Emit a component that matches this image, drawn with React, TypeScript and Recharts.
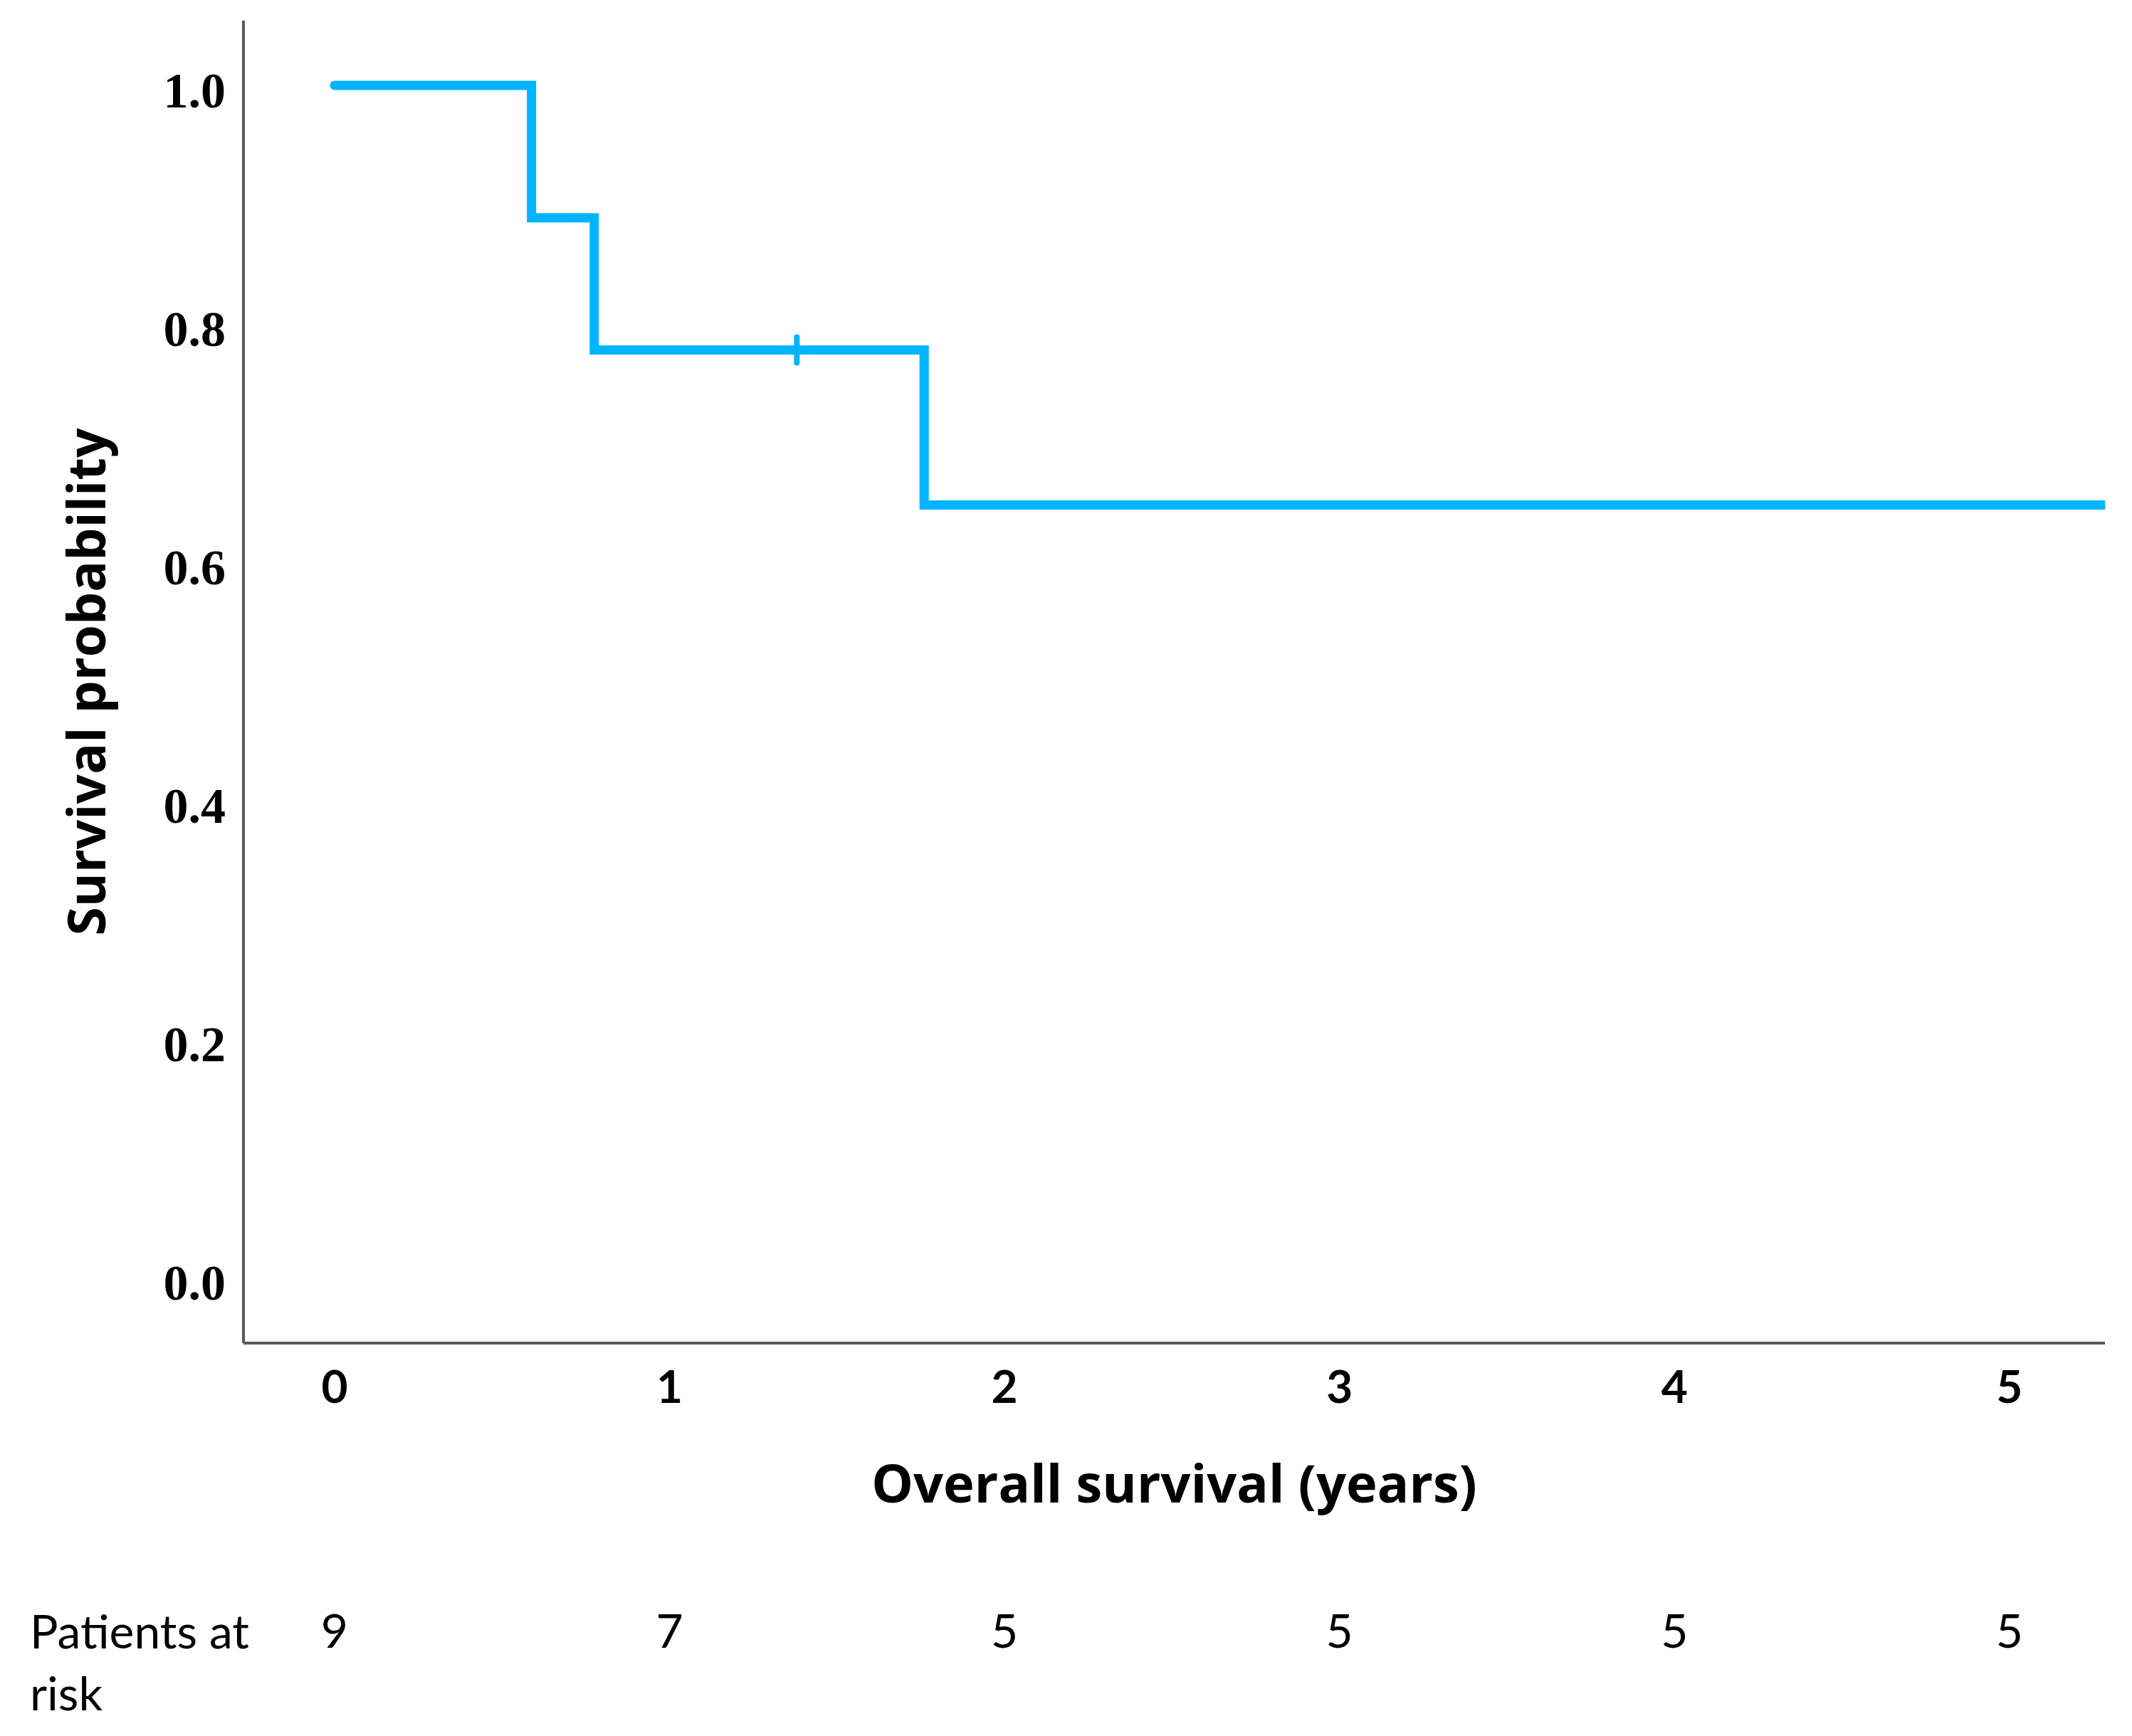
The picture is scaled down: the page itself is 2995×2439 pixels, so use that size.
import React from "react";
import { ComposedChart, Line, Scatter, XAxis, YAxis } from "recharts";

// Kaplan-Meier step points (time in years, survival probability)
const times = [0, 0.588, 0.775, 1.76, 5.285];
const survival = [1.0, 0.889, 0.778, 0.648, 0.648];
// Censored observation
const censorTimes = [1.38];
const censorSurvival = [0.778];
// Axis ticks
const yearTicks = [0, 1, 2, 3, 4, 5];
const probTicks = [0, 0.2, 0.4, 0.6, 0.8, 1.0];
// Patients at risk at each year tick
const atRisk = [9, 7, 5, 5, 5, 5];

const curveData = times.map((t, i) => ({ t, s: survival[i] }));
const censorData = censorTimes.map((t, i) => ({ t, s: censorSurvival[i] }));

const COLOR = "#00B4FF";
const AXIS = "#5a5a5a";
const SANS = "Lato, 'Open Sans', sans-serif";
const TITLE = "'Open Sans', Lato, sans-serif";
const SERIF = "'Liberation Serif', serif";

const XTick = (props: any) => {
  const { x, y, payload } = props;
  const idx = yearTicks.indexOf(payload.value);
  return (
    <g>
      <text x={x} y={y + 84} textAnchor="middle" fontFamily={SANS} fontWeight={700} fontSize={64} fill="#000">
        {payload.value}
      </text>
      <text x={x} y={y + 428} textAnchor="middle" fontFamily={SANS} fontWeight={400} fontSize={66} fill="#000">
        {idx >= 0 ? atRisk[idx] : ""}
      </text>
    </g>
  );
};

const YTick = (props: any) => {
  const { x, y, payload } = props;
  return (
    <text x={x} y={y + 6} dy="0.36em" textAnchor="end" fontFamily={SERIF} fontWeight={700} fontSize={70} fill="#000">
      {Number(payload.value).toFixed(1)}
    </text>
  );
};

const XLabel = (props: any) => {
  const { viewBox } = props;
  const cx = viewBox.x + viewBox.width / 2;
  return (
    <g>
      <text x={cx} y={viewBox.y + 224} textAnchor="middle" fontFamily={TITLE} fontWeight={700} fontSize={74} fill="#000">
        Overall survival (years)
      </text>
      <text x={42} y={viewBox.y + 429} textAnchor="start" fontFamily={SANS} fontWeight={400} fontSize={66} fill="#000">
        Patients at
      </text>
      <text x={42} y={viewBox.y + 516} textAnchor="start" fontFamily={SANS} fontWeight={400} fontSize={66} fill="#000">
        risk
      </text>
    </g>
  );
};

const YLabel = (props: any) => {
  const { viewBox } = props;
  const cy = viewBox.y + viewBox.height / 2;
  const bx = 148;
  return (
    <text x={bx} y={cy} transform={`rotate(-90, ${bx}, ${cy})`} textAnchor="middle" fontFamily={TITLE} fontWeight={700} fontSize={73} fill="#000">
      Survival probability
    </text>
  );
};

const CensorMark = (props: any) => {
  const { cx, cy } = props;
  return <line x1={cx} x2={cx} y1={cy - 18} y2={cy + 18} stroke={COLOR} strokeWidth={8} strokeLinecap="round" />;
};

export default function App() {
  return (
    <div style={{ position: "absolute", left: 0, top: 0, width: 2995, height: 2439, background: "#fff", overflow: "hidden" }}>
      <ComposedChart width={2995} height={2439} data={curveData} margin={{ top: 29, right: 38, left: 0, bottom: 0 }}>
        <XAxis
          dataKey="t"
          type="number"
          domain={[-0.272, 5.285]}
          allowDataOverflow
          ticks={yearTicks}
          tickLine={false}
          tickSize={0}
          tickMargin={0}
          height={552}
          axisLine={{ stroke: AXIS, strokeWidth: 4 }}
          tick={<XTick />}
          interval={0}
          label={<XLabel />}
        />
        <YAxis
          type="number"
          domain={[-0.0549, 1.0543]}
          allowDataOverflow
          ticks={probTicks}
          tickLine={false}
          tickSize={0}
          tickMargin={25}
          width={342}
          axisLine={{ stroke: AXIS, strokeWidth: 4 }}
          tick={<YTick />}
          interval={0}
          label={<YLabel />}
        />
        <Line
          type="stepAfter"
          dataKey="s"
          stroke={COLOR}
          strokeWidth={13}
          strokeLinecap="round"
          strokeLinejoin="miter"
          dot={false}
          activeDot={false}
          isAnimationActive={false}
        />
        <Scatter data={censorData} dataKey="s" shape={<CensorMark />} isAnimationActive={false} />
      </ComposedChart>
    </div>
  );
}
